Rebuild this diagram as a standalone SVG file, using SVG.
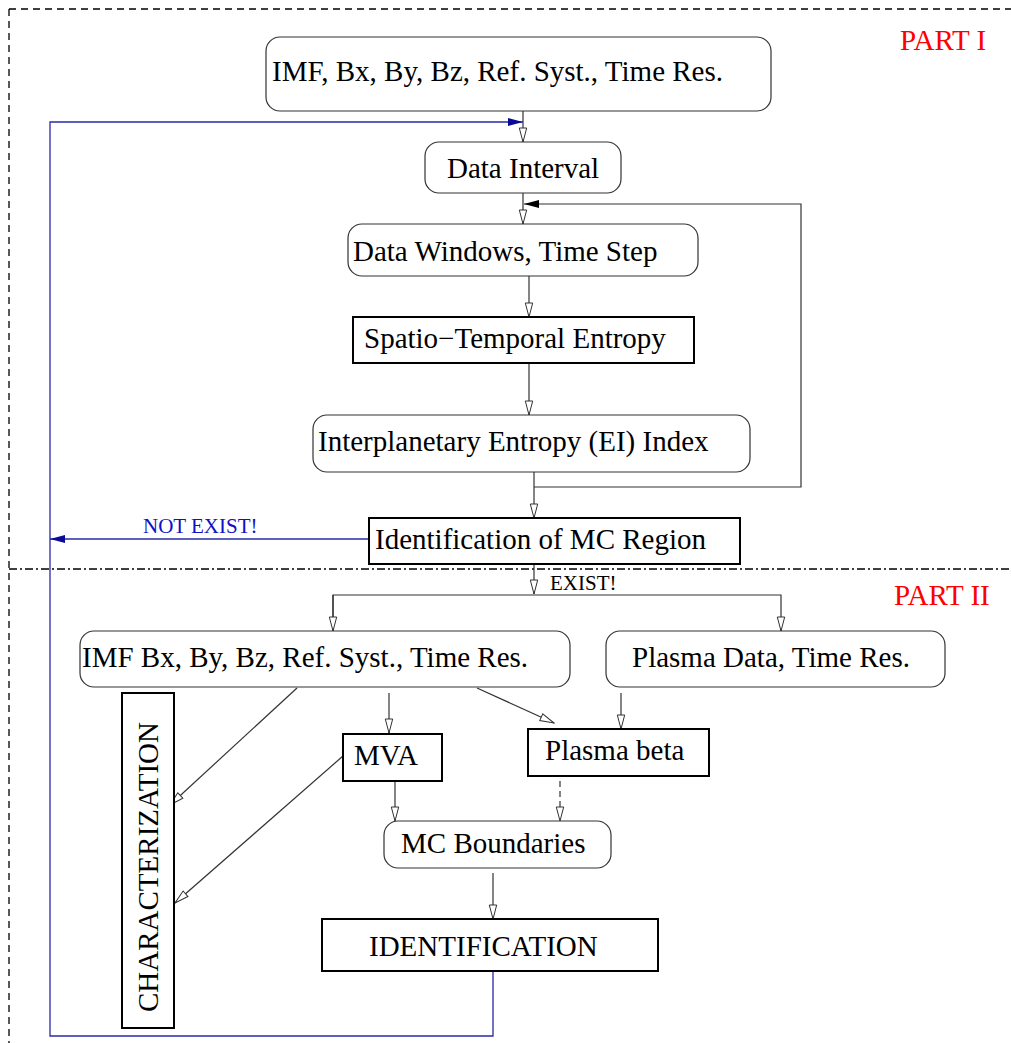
<svg xmlns="http://www.w3.org/2000/svg" width="1011" height="1043" viewBox="0 0 1011 1043">
<style>
text{font-family:"Liberation Serif","Times New Roman",serif;font-size:29px;fill:#000}
.rb{fill:#fff;stroke:#333;stroke-width:1.2}
.sb{fill:#fff;stroke:#000;stroke-width:2}
.c{fill:none;stroke:#333;stroke-width:1.2}
.b{fill:none;stroke:#2a2aa8;stroke-width:1.3}
.sm{font-size:21px}
.red{fill:#f00}
</style>
<defs>
<marker id="oa" markerUnits="userSpaceOnUse" markerWidth="16" markerHeight="10" refX="15" refY="4.5" orient="auto">
<path d="M1,0.8 L15,4.5 L1,8.2 z" fill="#fff" stroke="#333" stroke-width="1"/>
</marker>
<marker id="fb" markerUnits="userSpaceOnUse" markerWidth="16" markerHeight="10" refX="15" refY="4" orient="auto">
<path d="M0,0 L15,4 L0,8 z" fill="#0a0a96"/>
</marker>
<marker id="fk" markerUnits="userSpaceOnUse" markerWidth="16" markerHeight="10" refX="15" refY="4" orient="auto">
<path d="M0,0 L15,4 L0,8 z" fill="#000"/>
</marker>
</defs>

<g id="frame">
<line x1="9" y1="9" x2="1011" y2="9" stroke="#000" stroke-width="1.3" stroke-dasharray="7,5"/>
<line x1="9" y1="9" x2="9" y2="1043" stroke="#000" stroke-width="1.3" stroke-dasharray="7,5"/>
<line x1="9" y1="569" x2="1011" y2="569" stroke="#000" stroke-width="1.3" stroke-dasharray="8,3,2,3"/>
<text x="900" y="50" class="red">PART I</text>
<text x="894" y="605" class="red">PART II</text>
</g>

<g id="connectors">
<line x1="523" y1="111" x2="523" y2="142" class="c" marker-end="url(#oa)"/>
<line x1="523" y1="193" x2="523" y2="224" class="c" marker-end="url(#oa)"/>
<line x1="529" y1="276" x2="529" y2="317" class="c" marker-end="url(#oa)"/>
<line x1="529" y1="363" x2="529" y2="415" class="c" marker-end="url(#oa)"/>
<line x1="534" y1="472" x2="534" y2="518" class="c" marker-end="url(#oa)"/>
<polyline points="534,487 801,487 801,204 524,204" class="c" marker-end="url(#fk)"/>
<line x1="534" y1="564" x2="534" y2="594" class="c" marker-end="url(#oa)"/>
<polyline points="333,631 333,595 781,595 781,631" class="c" marker-end="url(#oa)"/>
<line x1="333" y1="595" x2="333" y2="631" class="c" marker-end="url(#oa)"/>
<line x1="297" y1="688" x2="170" y2="805" class="c" marker-end="url(#oa)"/>
<line x1="343" y1="756" x2="175" y2="903" class="c" marker-end="url(#oa)"/>
<line x1="389" y1="693" x2="389" y2="733" class="c" marker-end="url(#oa)"/>
<line x1="477" y1="688" x2="554" y2="723" class="c" marker-end="url(#oa)"/>
<line x1="621" y1="693" x2="621" y2="729" class="c" marker-end="url(#oa)"/>
<line x1="395" y1="781" x2="395" y2="821" class="c" marker-end="url(#oa)"/>
<line x1="560" y1="781" x2="560" y2="821" class="c" stroke-dasharray="6,4" marker-end="url(#oa)"/>
<line x1="493" y1="873" x2="493" y2="919" class="c" marker-end="url(#oa)"/>
<polyline points="493,971 493,1036 50,1036 50,122 523,122" class="b" marker-end="url(#fb)"/>
<line x1="369" y1="539" x2="50" y2="539" class="b" marker-end="url(#fb)"/>
<text x="143" y="533" class="sm" style="fill:#1010c8">NOT EXIST!</text>
<text x="550" y="590" class="sm">EXIST!</text>
</g>

<g id="n1"><rect x="266" y="37" width="505" height="74" rx="14" class="rb"/><text x="272" y="81">IMF, Bx, By, Bz, Ref. Syst., Time Res.</text></g>
<g id="n2"><rect x="425" y="142" width="196" height="51" rx="14" class="rb"/><text x="447" y="178">Data Interval</text></g>
<g id="n3"><rect x="348" y="224" width="350" height="52" rx="14" class="rb"/><text x="353" y="261">Data Windows, Time Step</text></g>
<g id="n4"><rect x="353" y="317" width="341" height="46" class="sb"/><text x="364" y="348">Spatio−Temporal Entropy</text></g>
<g id="n5"><rect x="313" y="415" width="437" height="57" rx="14" class="rb"/><text x="318" y="451">Interplanetary Entropy (EI) Index</text></g>
<g id="n6"><rect x="369" y="518" width="371" height="46" class="sb"/><text x="375" y="549">Identification of MC Region</text></g>
<g id="n7"><rect x="80" y="631" width="490" height="56" rx="14" class="rb"/><text x="82" y="667">IMF Bx, By, Bz, Ref. Syst., Time Res.</text></g>
<g id="n8"><rect x="606" y="631" width="339" height="56" rx="14" class="rb"/><text x="632" y="667">Plasma Data, Time Res.</text></g>
<g id="n9"><rect x="122" y="693" width="52" height="335" class="sb"/><text transform="translate(158,867) rotate(-90)" text-anchor="middle">CHARACTERIZATION</text></g>
<g id="n10"><rect x="343" y="734" width="99" height="47" class="sb"/><text x="354" y="765">MVA</text></g>
<g id="n11"><rect x="528" y="729" width="181" height="47" class="sb"/><text x="545" y="760">Plasma beta</text></g>
<g id="n12"><rect x="384" y="821" width="227" height="47" rx="14" class="rb"/><text x="401" y="853">MC Boundaries</text></g>
<g id="n13"><rect x="322" y="919" width="336" height="52" class="sb"/><text x="369" y="956">IDENTIFICATION</text></g>
</svg>
